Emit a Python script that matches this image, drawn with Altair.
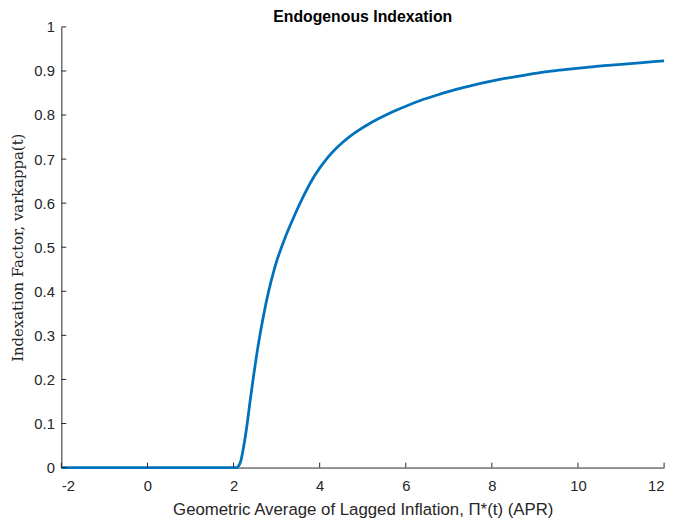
import altair as alt
import pandas as pd

# lagged inflation (APR) and the indexation factor
pi_star = [-2.0, 2.08, 2.12, 2.17, 2.23, 2.31, 2.38, 2.46, 2.54, 2.62, 2.70,
           2.81, 2.96, 3.19, 3.42, 3.65, 3.88, 4.19, 4.38, 4.57, 4.84, 5.20,
           5.60, 6.00, 6.37, 6.75, 7.13, 7.50, 7.90, 8.30, 8.67, 9.05, 9.43,
           9.80, 10.20, 10.60, 11.00, 11.50, 12.00]
kappa = [0.0, 0.0, 0.004, 0.016, 0.045, 0.095, 0.148, 0.205, 0.258, 0.305,
         0.347, 0.398, 0.455, 0.520, 0.573, 0.621, 0.662, 0.704, 0.724, 0.741,
         0.761, 0.783, 0.803, 0.820, 0.834, 0.846, 0.857, 0.866, 0.875, 0.883,
         0.889, 0.895, 0.900, 0.904, 0.908, 0.912, 0.915, 0.919, 0.923]

x_ticks = [-2, 0, 2, 4, 6, 8, 10, 12]
y_ticks = [0, 0.1, 0.2, 0.3, 0.4, 0.5, 0.6, 0.7, 0.8, 0.9, 1.0]
title_text = "Endogenous Indexation"

W, H = 610, 446
AXIS_COLOR = "#262626"

df = pd.DataFrame({"pi": pi_star, "kappa": kappa})

x_scale = alt.Scale(domain=[-2, 12], nice=False, zero=False)
y_scale = alt.Scale(domain=[0, 1], nice=False)

curve = (
    alt.Chart(df)
    .mark_line(color="#0072BD", strokeWidth=2.8, interpolate="monotone")
    .encode(
        x=alt.X(
            "pi:Q",
            scale=x_scale,
            title="Geometric Average of Lagged Inflation, Π*(t) (APR)",
            axis=alt.Axis(
                values=x_ticks,
                labelExpr="'' + datum.value",  # plain hyphen for -2
                ticks=False,
                grid=False,
                domainColor=AXIS_COLOR,
                labelColor=AXIS_COLOR,
                labelFontSize=15,
                labelFont="Liberation Sans",
                labelPadding=11,
                titleFont="Liberation Sans",
                titleFontSize=17,
                titleFontWeight="normal",
                titleColor=AXIS_COLOR,
                titlePadding=9,
            ),
        ),
        y=alt.Y(
            "kappa:Q",
            scale=y_scale,
            title="Indexation Factor, varkappa(t)",
            axis=alt.Axis(
                values=y_ticks,
                format="~g",
                ticks=False,
                grid=False,
                domainColor=AXIS_COLOR,
                labelColor=AXIS_COLOR,
                labelFontSize=15,
                labelFont="Liberation Sans",
                labelPadding=7,
                titleFont="DejaVu Serif",
                titleFontSize=15,
                titleFontWeight="normal",
                titleColor=AXIS_COLOR,
                titlePadding=8,
            ),
        ),
    )
)

# MATLAB-style ticks pointing into the plot
x_tick_marks = (
    alt.Chart(pd.DataFrame({"t": x_ticks}))
    .mark_rule(color=AXIS_COLOR, strokeWidth=1)
    .encode(x=alt.X("t:Q", scale=x_scale), y=alt.value(H), y2=alt.value(H - 5))
)
y_tick_marks = (
    alt.Chart(pd.DataFrame({"t": y_ticks}))
    .mark_rule(color=AXIS_COLOR, strokeWidth=1)
    .encode(y=alt.Y("t:Q", scale=y_scale), x=alt.value(0), x2=alt.value(5))
)

# title drawn as text so it sits tight against the top edge
title = (
    alt.Chart(pd.DataFrame({"t": [title_text]}))
    .mark_text(
        font="Liberation Sans",
        fontSize=16,
        fontWeight="bold",
        color="black",
        align="center",
        baseline="alphabetic",
    )
    .encode(text="t:N", x=alt.value(W / 2), y=alt.value(-5))
)

chart = (
    (curve + x_tick_marks + y_tick_marks + title)
    .properties(
        width=W,
        height=H,
        autosize=alt.AutoSizeParams(type="none"),
        padding={"left": 54, "top": 16, "right": 7, "bottom": 54},
    )
    .configure_view(stroke=None)
)

chart.save("out.html", embed_options={"renderer": "svg", "actions": False})
